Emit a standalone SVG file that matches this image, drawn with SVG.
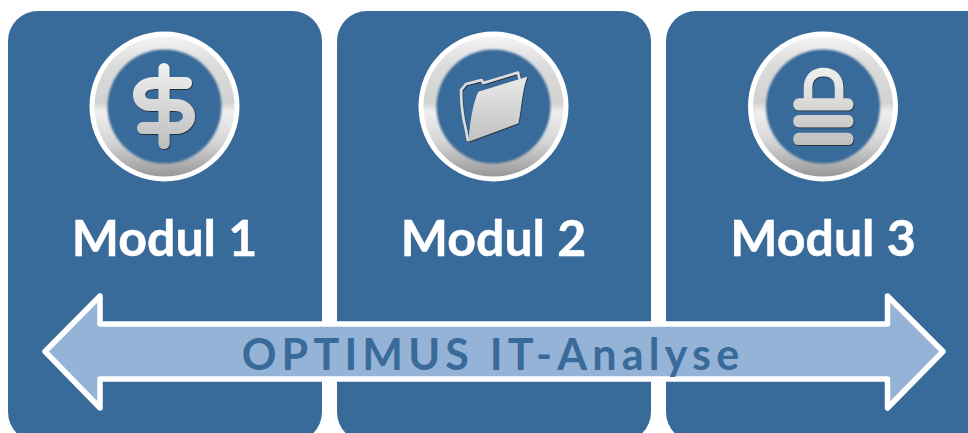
<svg xmlns="http://www.w3.org/2000/svg" width="968" height="433" viewBox="0 0 968 433">
<style>
.panel{fill:#386a9a}
.outer{fill:#fff}
.ring{fill:url(#ringGrad)}
.hole{fill:#386a9a;filter:url(#soft)}
.title{font:700 50px Lato,"Liberation Sans",sans-serif;fill:#fff;text-anchor:middle;stroke:#fff;stroke-width:.5px}
.icon{filter:url(#iconShadow)}
.band{fill:none;stroke:url(#glyphGrad);stroke-linecap:round;stroke-linejoin:round}
.fill{fill:url(#glyphGrad)}
</style>
<defs>
<linearGradient id="ringGrad" x1="0" y1="0" x2="0" y2="1">
<stop offset="0" stop-color="#f4f4f4"/><stop offset=".2" stop-color="#dcdcdc"/><stop offset=".47" stop-color="#d2d2d2"/><stop offset=".54" stop-color="#efefef"/><stop offset=".75" stop-color="#d6d6d6"/><stop offset="1" stop-color="#989898"/>
</linearGradient>
<linearGradient id="glyphGrad" gradientUnits="userSpaceOnUse" x1="0" y1="60" x2="0" y2="150">
<stop offset="0" stop-color="#f4f4f4"/><stop offset="1" stop-color="#bcbcbc"/>
</linearGradient>
<filter id="iconShadow" x="-20%" y="-20%" width="140%" height="140%">
<feDropShadow dx="0.7" dy="1" stdDeviation="0.6" flood-color="#222" flood-opacity=".8"/>
</filter>
<filter id="soft" x="-10%" y="-10%" width="120%" height="120%">
<feGaussianBlur stdDeviation="1"/>
</filter>
<g id="medal">
<circle r="75" class="outer"/>
<circle r="70" class="ring"/>
<circle r="57" class="hole"/>
</g>
</defs>
<g id="node-modul-1">
<rect class="panel" x="8" y="11" width="314" height="431" rx="30"/>
<use href="#medal" x="164.500" y="106.500"/>
<g class="icon">
<path class="band" stroke-width="11" d="M164 68.500V143.500"/>
<path class="band" stroke-width="12" d="M186 83H155C144 83 139 89 139 94.500C139 101 144 105 151 105H175C185 105 189 111 189 116.500C189 122 184 128 175 128H143"/>
</g>
<text class="title" x="164.500" y="255.500">Modul 1</text>
</g>
<g id="node-modul-2">
<rect class="panel" x="337" y="11" width="314" height="431" rx="30"/>
<use href="#medal" x="493.500" y="106.500"/>
<g class="icon">
<path d="M468 141L466 130C462 115 461 100 461 90L466 84L481.500 80L483.300 83L518 72.500L519.500 79" fill="none" stroke="#dedede" stroke-width="2.500" stroke-linejoin="round"/>
<path class="fill" d="M478.300 91.700L527.300 76.700C522 90 522 105 518.300 123.300L468.300 141.700C470 125 472 105 478.300 91.700Z"/>
</g>
<text class="title" x="493.500" y="255.500">Modul 2</text>
</g>
<g id="node-modul-3">
<rect class="panel" x="666" y="11" width="330" height="431" rx="30"/>
<use href="#medal" x="823" y="106.500"/>
<g class="icon">
<path class="band" stroke-width="8.500" stroke-linecap="butt" d="M808 100V88C808 78 814 72 823.500 72C833 72 839 78 839 88V100"/>
<rect class="fill" x="793.300" y="98.300" width="60" height="12" rx="5.500"/>
<rect class="fill" x="793.300" y="115" width="60" height="12.300" rx="5.500"/>
<rect class="fill" x="793.300" y="132.700" width="60" height="12.300" rx="5.500"/>
</g>
<text class="title" x="823" y="255.500">Modul 3</text>
</g>
<g id="connectors">
<path id="double-arrow" d="M45 351.500L100 296V324H887.500V296L943 351.500L887.500 408V379H100V408Z" fill="#95b3d7" stroke="#fff" stroke-width="5.500" stroke-linejoin="round"/>
<text x="493" y="369.500" text-anchor="middle" style="font:700 43px Lato,'Liberation Sans',sans-serif;letter-spacing:5.200px;fill:#386a9a">OPTIMUS IT-Analyse</text>
</g>
</svg>
